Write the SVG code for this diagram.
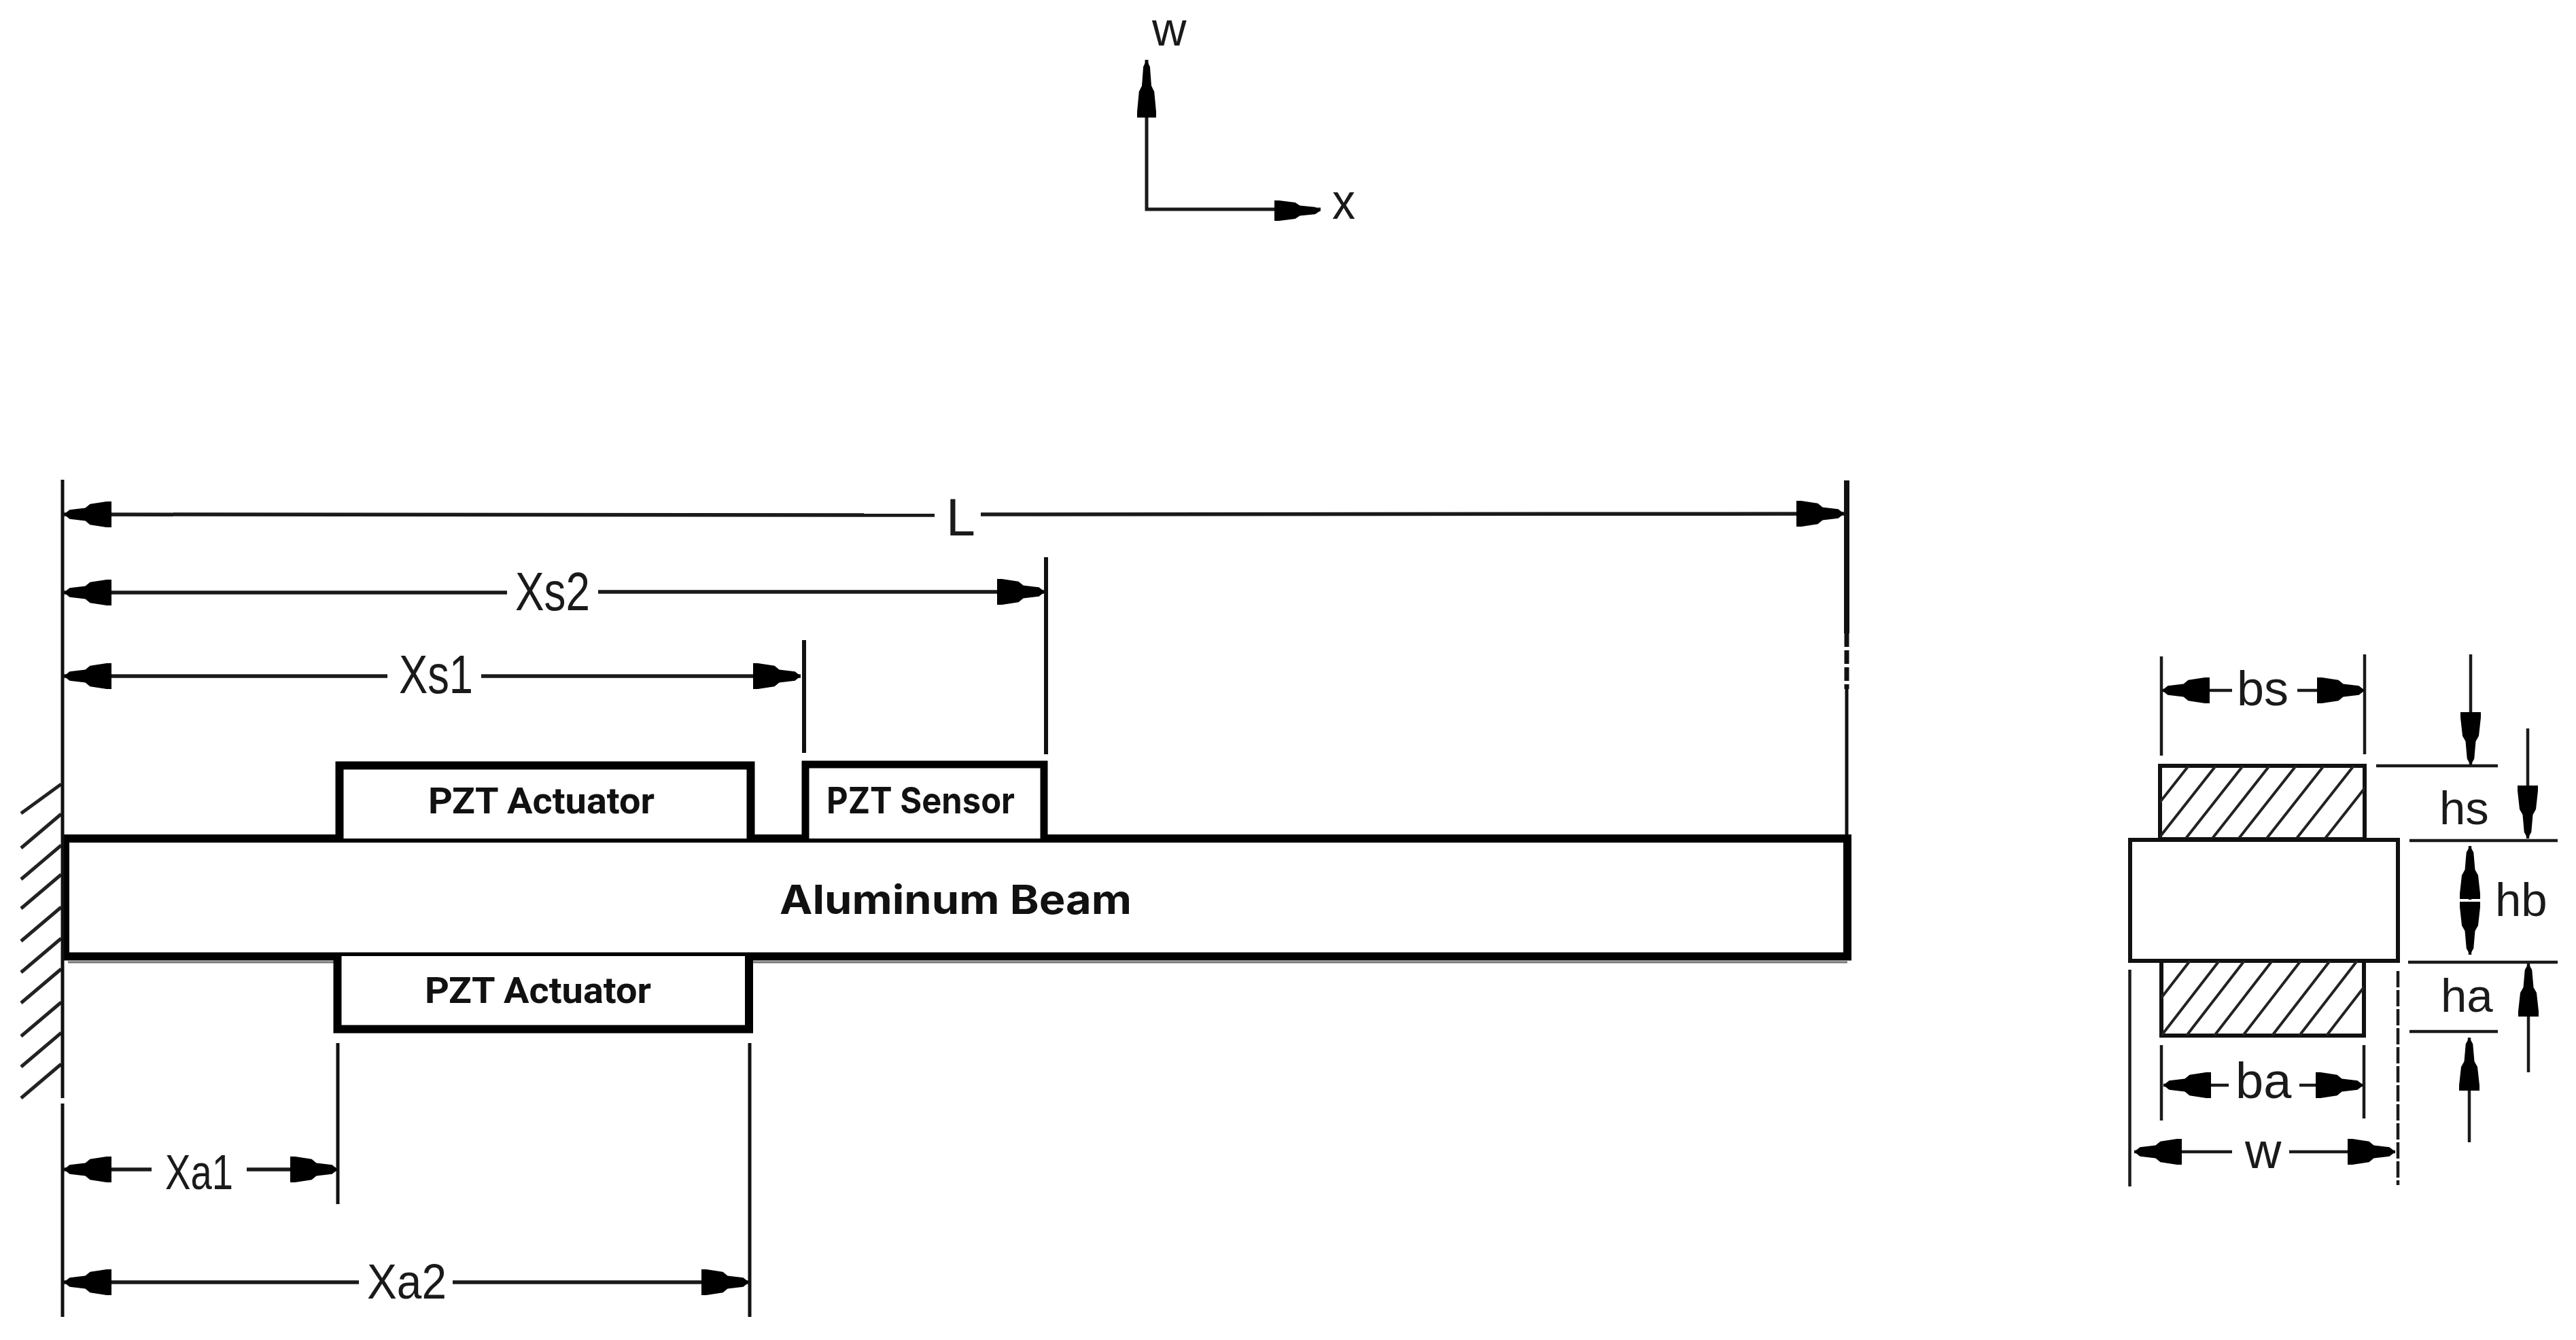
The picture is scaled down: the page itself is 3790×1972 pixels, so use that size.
<svg xmlns="http://www.w3.org/2000/svg" width="3790" height="1972" viewBox="0 0 3790 1972">
<style>
text{font-family:"Liberation Sans",Arial,sans-serif;fill:#1a1a1a}
.box{fill:#fff;stroke:#000;stroke-width:12}
.sec{fill:#fff;stroke:#111;stroke-width:6}
.dim line{stroke:#1a1a1a;stroke-width:5.500;fill:none}
.ext{stroke:#111;stroke-width:5;fill:none}
.thin{stroke:#1a1a1a;stroke-width:4.500;fill:none}
.hatch{stroke:#222;stroke-width:4;fill:none}
.wallh{stroke:#222;stroke-width:5;fill:none}
.lbl{font-family:Roboto,"Liberation Sans",sans-serif;font-weight:700;fill:#111;font-size:53px}
.lbl2{font-family:Inter,"Liberation Sans",sans-serif;font-weight:700;fill:#111}
.secdim line{stroke-width:4.500}
</style>
<defs>
<path id="hd" fill="#000" d="M0 0L-12 -35L-45 -50L-55 -80L-90 -100L-100 -100L-100 100L-90 100L-55 80L-45 50L-12 35Z"/>
<marker id="m-main" markerUnits="userSpaceOnUse" viewBox="-100 -100 100 200" refX="0" refY="0" markerWidth="70" markerHeight="38" preserveAspectRatio="none" orient="auto-start-reverse"><use href="#hd"/></marker>
<marker id="m-sech" markerUnits="userSpaceOnUse" viewBox="-100 -100 100 200" refX="0" refY="0" markerWidth="70" markerHeight="38" preserveAspectRatio="none" orient="auto-start-reverse"><use href="#hd"/></marker>
<marker id="m-secv" markerUnits="userSpaceOnUse" viewBox="-100 -100 100 200" refX="0" refY="0" markerWidth="78" markerHeight="30" preserveAspectRatio="none" orient="auto-start-reverse"><use href="#hd"/></marker>
<marker id="m-axv" markerUnits="userSpaceOnUse" viewBox="-100 -100 100 200" refX="0" refY="0" markerWidth="85" markerHeight="28" preserveAspectRatio="none" orient="auto-start-reverse"><use href="#hd"/></marker>
<marker id="m-axh" markerUnits="userSpaceOnUse" viewBox="-100 -100 100 200" refX="0" refY="0" markerWidth="68" markerHeight="30" preserveAspectRatio="none" orient="auto-start-reverse"><use href="#hd"/></marker>
<clipPath id="c-s"><rect x="3178" y="1127" width="301" height="108"/></clipPath>
<clipPath id="c-a"><rect x="3180" y="1414" width="298" height="110"/></clipPath>
</defs>
<rect width="3790" height="1972" fill="#fff"/>

<g id="wall">
<path class="wallh" d="M31 1197L90 1154M31 1248L90 1198M31 1294L90 1244M31 1337L90 1287M31 1385L90 1335M31 1431L90 1381M31 1476L90 1426M31 1525L90 1475M31 1570L90 1520M31 1616L90 1566"/>
</g>

<g id="beam">
<line x1="100" y1="1416" x2="2718" y2="1416" stroke="#777" stroke-width="3"/>
<rect class="box" x="96" y="1234" width="2622" height="173.500"/>
<text class="lbl2" x="1147" y="1345" font-size="59" textLength="518" lengthAdjust="spacingAndGlyphs">Aluminum Beam</text>
</g>
<g id="actuator-top">
<path fill="#fff" stroke="#000" stroke-width="12" d="M499.500 1234V1126.500H1104.500V1234"/>
<text class="lbl" x="630" y="1197" textLength="333" lengthAdjust="spacingAndGlyphs">PZT Actuator</text>
</g>
<g id="sensor">
<path fill="#fff" stroke="#000" stroke-width="11" d="M1185 1234V1125H1536V1234"/>
<text class="lbl2" x="1216" y="1197" font-size="53" fill="#2a2a2a" textLength="277" lengthAdjust="spacingAndGlyphs">PZT Sensor</text>
</g>
<g id="actuator-bottom">
<path fill="#fff" stroke="#000" stroke-width="12" d="M496.500 1407V1514.500H1102V1407"/>
<text class="lbl" x="625" y="1476" textLength="333" lengthAdjust="spacingAndGlyphs">PZT Actuator</text>
</g>

<g id="section">
<g id="section-sensor">
<rect class="sec" x="3178" y="1127" width="301" height="108"/>
<g clip-path="url(#c-s)"><path class="hatch" d="M3220 1127L3135 1235M3260 1127L3175 1235M3300 1127L3215 1235M3339 1127L3254 1235M3378 1127L3293 1235M3419 1127L3334 1235M3463 1127L3378 1235M3505 1127L3420 1235"/></g>
</g>
<g id="section-beam"><rect class="sec" x="3134" y="1236" width="394" height="178"/></g>
<g id="section-actuator">
<rect class="sec" x="3180" y="1414" width="298" height="110"/>
<g clip-path="url(#c-a)"><path class="hatch" d="M3222 1414L3137 1524M3265 1414L3180 1524M3302 1414L3217 1524M3343 1414L3258 1524M3385 1414L3300 1524M3428 1414L3343 1524M3468 1414L3383 1524M3508 1414L3423 1524"/></g>
</g>
</g>

<g id="connectors">
<g class="ext">
<line x1="92" y1="706" x2="92" y2="1616"/><line x1="92" y1="1624" x2="92" y2="1938"/>
<line x1="2717" y1="707" x2="2717" y2="932" stroke-width="8"/><line x1="2717" y1="932" x2="2717" y2="1014" stroke-width="7" stroke-dasharray="20 5"/><line x1="2717" y1="1014" x2="2717" y2="1228"/>
<line x1="1539" y1="820" x2="1539" y2="1110" stroke-width="6"/>
<line x1="1183" y1="942" x2="1183" y2="1108" stroke-width="6"/>
<line x1="497" y1="1535" x2="497" y2="1772"/>
<line x1="1103" y1="1535" x2="1103" y2="1938"/>
</g>
<g class="thin">
<line x1="3180" y1="966" x2="3180" y2="1112"/><line x1="3479" y1="963" x2="3479" y2="1110"/>
<line x1="3180" y1="1538" x2="3180" y2="1649"/><line x1="3478" y1="1538" x2="3478" y2="1646"/>
<line x1="3133.500" y1="1427" x2="3133.500" y2="1746"/><line x1="3528" y1="1429" x2="3528" y2="1744" stroke-dasharray="24 4"/>
<line x1="3496" y1="1127" x2="3675" y2="1127"/>
<line x1="3545" y1="1237" x2="3763" y2="1237"/>
<line x1="3543" y1="1416" x2="3763" y2="1416"/>
<line x1="3545" y1="1518" x2="3675" y2="1518"/>
</g>
<g class="dim">
<line x1="94" y1="757" x2="1375" y2="758" marker-start="url(#m-main)"/>
<line x1="1443" y1="757" x2="2713" y2="756" marker-end="url(#m-main)"/>
<line x1="94" y1="872" x2="746" y2="872" marker-start="url(#m-main)"/>
<line x1="880" y1="871" x2="1537" y2="871" marker-end="url(#m-main)"/>
<line x1="94" y1="995" x2="570" y2="995" marker-start="url(#m-main)"/>
<line x1="708" y1="995" x2="1178" y2="995" marker-end="url(#m-main)"/>
<line x1="94" y1="1721" x2="223" y2="1721" marker-start="url(#m-main)"/>
<line x1="363" y1="1721" x2="497" y2="1721" marker-end="url(#m-main)"/>
<line x1="94" y1="1887" x2="528" y2="1887" marker-start="url(#m-main)"/>
<line x1="666" y1="1887" x2="1102" y2="1887" marker-end="url(#m-main)"/>
</g>
<g class="dim secdim">
<line x1="3181" y1="1016" x2="3284" y2="1016" marker-start="url(#m-sech)"/>
<line x1="3380" y1="1016" x2="3479" y2="1016" marker-end="url(#m-sech)"/>
<line x1="3183" y1="1597" x2="3279" y2="1597" marker-start="url(#m-sech)"/>
<line x1="3383" y1="1597" x2="3477" y2="1597" marker-end="url(#m-sech)"/>
<line x1="3140" y1="1695" x2="3284" y2="1695" marker-start="url(#m-sech)"/>
<line x1="3368" y1="1695" x2="3524" y2="1695" marker-end="url(#m-sech)"/>
<line x1="3635" y1="963" x2="3635" y2="1126" marker-end="url(#m-secv)"/>
<line x1="3719" y1="1072" x2="3719" y2="1234" marker-end="url(#m-secv)"/>
<line x1="3634" y1="1324" x2="3634" y2="1245" marker-end="url(#m-secv)"/>
<line x1="3634" y1="1330" x2="3634" y2="1405" marker-end="url(#m-secv)"/>
<line x1="3720" y1="1578" x2="3720" y2="1418" marker-end="url(#m-secv)"/>
<line x1="3633" y1="1681" x2="3633" y2="1527" marker-end="url(#m-secv)"/>
</g>
<g id="axes">
<path d="M1687 88V308H1943" fill="none" stroke="#1a1a1a" stroke-width="5"/>
<path d="M1687 88V173" fill="none" stroke="none" marker-start="url(#m-axv)"/>
<path d="M1875 310H1943" fill="none" stroke="none" marker-end="url(#m-axh)"/>
</g>
</g>

<g id="labels">
<text x="1392" y="788" font-size="77">L</text>
<text x="758" y="898" font-size="80" textLength="110" lengthAdjust="spacingAndGlyphs">Xs2</text>
<text x="587" y="1020" font-size="80" textLength="109" lengthAdjust="spacingAndGlyphs">Xs1</text>
<text x="243" y="1750" font-size="72" textLength="100" lengthAdjust="spacingAndGlyphs">Xa1</text>
<text x="540" y="1911" font-size="72" textLength="117" lengthAdjust="spacingAndGlyphs">Xa2</text>
<text x="3291" y="1038" font-size="72">bs</text>
<text x="3289" y="1616" font-size="74">ba</text>
<text x="3303" y="1719" font-size="74">w</text>
<text x="3589" y="1213" font-size="69">hs</text>
<text x="3671" y="1348" font-size="69">hb</text>
<text x="3591" y="1489" font-size="69">ha</text>
<text x="1695" y="67" font-size="70">w</text>
<text x="1960" y="322" font-size="75" textLength="34" lengthAdjust="spacingAndGlyphs">x</text>
</g>
</svg>
